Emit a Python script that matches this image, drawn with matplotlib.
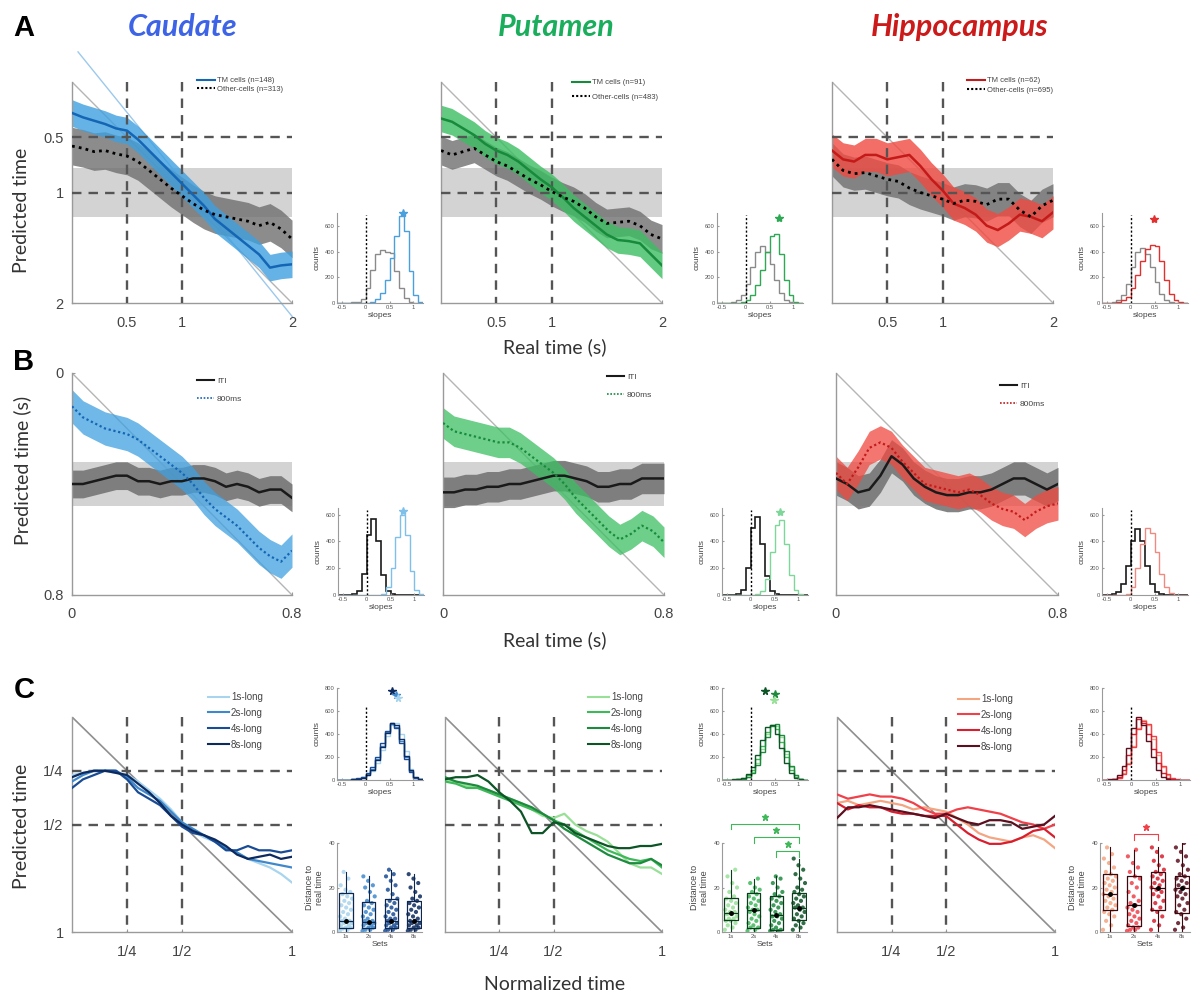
import numpy as np
import matplotlib
matplotlib.use('Agg')
import matplotlib.pyplot as plt
from matplotlib.lines import Line2D

plt.rcParams['font.family'] = ['Liberation Sans', 'DejaVu Sans']

# ---------------- DATA ----------------
regions = ['Caudate', 'Putamen', 'Hippocampus']
title_colors = ['#3d63e6', '#1aae5c', '#cc1a1a']
tm_line_colors = ['#1565b5', '#178a3c', '#c41a1a']
tm_fill_colors = ['#3fa0e0', '#3cbf62', '#f04a40']
tm_hist_colors = ['#4aa0dc', '#2ea854', '#e03030']
light_hist_colors = ['#7fc0ea', '#7fd69a', '#f08a80']

# Row A: real time 0..2 s
xA = np.linspace(0, 2, 21)
tm_n = [148, 91, 62]
other_n = [313, 483, 695]
tm_mean = [
    [0.28, 0.32, 0.35, 0.38, 0.42, 0.44, 0.52, 0.62, 0.72, 0.82, 0.92, 1.02, 1.12, 1.24, 1.32, 1.40, 1.48, 1.56, 1.68, 1.66, 1.65],
    [0.33, 0.36, 0.42, 0.48, 0.56, 0.62, 0.66, 0.72, 0.80, 0.88, 0.95, 1.04, 1.14, 1.22, 1.30, 1.38, 1.43, 1.44, 1.46, 1.56, 1.66],
    [0.62, 0.70, 0.72, 0.66, 0.66, 0.70, 0.68, 0.66, 0.76, 0.88, 0.98, 1.10, 1.14, 1.20, 1.30, 1.34, 1.28, 1.20, 1.22, 1.26, 1.18],
]
tm_sem = [0.12, 0.12, 0.15]
other_mean = [
    [0.58, 0.60, 0.63, 0.62, 0.65, 0.67, 0.72, 0.80, 0.88, 0.96, 1.03, 1.10, 1.16, 1.20, 1.22, 1.24, 1.26, 1.30, 1.27, 1.33, 1.42],
    [0.62, 0.66, 0.63, 0.60, 0.66, 0.72, 0.76, 0.82, 0.88, 0.93, 0.99, 1.04, 1.08, 1.14, 1.22, 1.28, 1.27, 1.26, 1.30, 1.38, 1.42],
    [0.70, 0.80, 0.83, 0.82, 0.85, 0.88, 0.90, 0.96, 1.00, 1.03, 1.06, 1.10, 1.07, 1.08, 1.11, 1.06, 1.06, 1.16, 1.22, 1.12, 1.07],
]
other_sem = [0.17, 0.13, 0.15]
chance_A = (0.78, 1.22)
caudate_fit = (1.23, -0.34)   # slope, intercept of light-blue fit line
caudate_fit_x = (0.055, 2.01)

# Row B: real time 0..0.8 s
xB = np.linspace(0, 0.8, 21)
iti_mean = [
    [0.40, 0.40, 0.39, 0.38, 0.37, 0.37, 0.39, 0.39, 0.40, 0.39, 0.39, 0.38, 0.38, 0.39, 0.41, 0.40, 0.41, 0.43, 0.42, 0.42, 0.45],
    [0.43, 0.43, 0.42, 0.42, 0.41, 0.41, 0.40, 0.40, 0.39, 0.38, 0.37, 0.37, 0.38, 0.39, 0.41, 0.41, 0.40, 0.40, 0.38, 0.38, 0.38],
    [0.38, 0.40, 0.43, 0.42, 0.37, 0.30, 0.33, 0.38, 0.41, 0.43, 0.44, 0.44, 0.43, 0.43, 0.42, 0.40, 0.38, 0.38, 0.40, 0.42, 0.40],
]
iti_sem = [0.05, 0.055, 0.06]
m800_mean = [
    [0.12, 0.16, 0.18, 0.20, 0.21, 0.22, 0.24, 0.27, 0.30, 0.33, 0.36, 0.40, 0.45, 0.49, 0.52, 0.55, 0.59, 0.63, 0.66, 0.68, 0.64],
    [0.18, 0.21, 0.22, 0.23, 0.24, 0.25, 0.25, 0.27, 0.30, 0.33, 0.36, 0.40, 0.45, 0.49, 0.53, 0.57, 0.60, 0.58, 0.55, 0.57, 0.61],
    [0.36, 0.40, 0.34, 0.27, 0.25, 0.27, 0.32, 0.36, 0.40, 0.41, 0.42, 0.43, 0.42, 0.44, 0.47, 0.49, 0.50, 0.53, 0.50, 0.48, 0.47],
]
m800_sem = [0.06, 0.055, 0.06]
chance_B = (0.32, 0.48)

# Row C: normalized time 0..1
xC = np.linspace(0, 1, 21)
set_labels = ['1s-long', '2s-long', '4s-long', '8s-long']
set_ticks = ['1s', '2s', '4s', '8s']
set_colors = [
    ['#a8d4ee', '#3f88cc', '#1a4c95', '#0c2a5e'],
    ['#98e098', '#3fb85a', '#1d8a3e', '#0d5426'],
    ['#f4a582', '#f0404a', '#d91e2e', '#5c0f1e'],
]
box_edge = ['#0d2850', '#0b3d1c', '#3a0a10']
norm_curves = [
    [
        [0.27, 0.26, 0.25, 0.25, 0.26, 0.27, 0.30, 0.34, 0.38, 0.43, 0.49, 0.53, 0.56, 0.58, 0.61, 0.63, 0.66, 0.68, 0.70, 0.73, 0.77],
        [0.30, 0.27, 0.25, 0.25, 0.25, 0.28, 0.33, 0.36, 0.39, 0.44, 0.49, 0.52, 0.55, 0.58, 0.61, 0.63, 0.66, 0.67, 0.68, 0.69, 0.70],
        [0.33, 0.29, 0.27, 0.25, 0.25, 0.29, 0.35, 0.38, 0.41, 0.46, 0.51, 0.54, 0.55, 0.58, 0.62, 0.62, 0.60, 0.62, 0.62, 0.63, 0.62],
        [0.28, 0.26, 0.25, 0.25, 0.26, 0.27, 0.31, 0.35, 0.40, 0.46, 0.50, 0.53, 0.55, 0.57, 0.60, 0.64, 0.66, 0.65, 0.64, 0.66, 0.65],
    ],
    [
        [0.29, 0.30, 0.32, 0.33, 0.34, 0.36, 0.38, 0.40, 0.43, 0.46, 0.47, 0.45, 0.50, 0.53, 0.55, 0.58, 0.63, 0.68, 0.70, 0.70, 0.73],
        [0.30, 0.31, 0.33, 0.33, 0.35, 0.37, 0.39, 0.41, 0.43, 0.45, 0.48, 0.50, 0.53, 0.56, 0.59, 0.62, 0.64, 0.66, 0.67, 0.66, 0.70],
        [0.28, 0.30, 0.31, 0.32, 0.34, 0.36, 0.38, 0.40, 0.42, 0.45, 0.48, 0.52, 0.55, 0.58, 0.61, 0.64, 0.66, 0.68, 0.68, 0.66, 0.69],
        [0.29, 0.28, 0.28, 0.27, 0.30, 0.35, 0.39, 0.44, 0.54, 0.54, 0.49, 0.50, 0.54, 0.56, 0.58, 0.60, 0.61, 0.61, 0.60, 0.60, 0.59],
    ],
    [
        [0.40, 0.39, 0.41, 0.40, 0.39, 0.40, 0.41, 0.43, 0.42, 0.43, 0.44, 0.47, 0.50, 0.54, 0.56, 0.57, 0.58, 0.56, 0.55, 0.57, 0.61],
        [0.36, 0.38, 0.37, 0.36, 0.37, 0.37, 0.38, 0.40, 0.43, 0.45, 0.45, 0.43, 0.42, 0.43, 0.44, 0.45, 0.47, 0.49, 0.50, 0.52, 0.50],
        [0.40, 0.43, 0.41, 0.42, 0.42, 0.44, 0.45, 0.45, 0.46, 0.46, 0.46, 0.50, 0.54, 0.57, 0.59, 0.59, 0.58, 0.56, 0.53, 0.52, 0.56],
        [0.47, 0.42, 0.42, 0.41, 0.42, 0.43, 0.44, 0.45, 0.46, 0.47, 0.45, 0.47, 0.49, 0.50, 0.48, 0.48, 0.49, 0.52, 0.51, 0.50, 0.46],
    ],
]

# Slope histograms: bin edges -0.6..1.2 step 0.1
hist_edges = np.round(np.arange(-0.6, 1.2001, 0.1), 2)
histA_other = [
    [0, 0, 0, 5, 10, 30, 120, 260, 380, 410, 400, 390, 250, 120, 40, 10, 0, 0],
    [0, 0, 0, 5, 20, 60, 150, 280, 400, 440, 400, 300, 180, 80, 25, 5, 0, 0],
    [0, 0, 5, 20, 60, 150, 280, 400, 430, 380, 280, 160, 70, 20, 5, 0, 0, 0],
]
histA_tm = [
    [0, 0, 0, 0, 0, 0, 0, 5, 30, 80, 180, 350, 520, 680, 560, 250, 60, 5],
    [0, 0, 0, 0, 0, 5, 20, 60, 140, 260, 400, 520, 540, 380, 180, 60, 10, 0],
    [0, 0, 0, 5, 20, 50, 120, 220, 330, 420, 450, 440, 330, 180, 70, 20, 5, 0],
]
starA = [(0.78, 700), (0.70, 660), (0.48, 650)]
histB_iti = [
    [0, 0, 0, 5, 30, 160, 450, 570, 400, 150, 30, 5, 0, 0, 0, 0, 0, 0],
    [0, 0, 0, 5, 40, 200, 500, 580, 380, 140, 30, 5, 0, 0, 0, 0, 0, 0],
    [0, 0, 5, 20, 80, 220, 400, 490, 400, 220, 80, 20, 5, 0, 0, 0, 0, 0],
]
histB_800 = [
    [0, 0, 0, 0, 0, 0, 0, 0, 0, 10, 60, 200, 430, 600, 450, 180, 40, 5],
    [0, 0, 0, 0, 0, 0, 0, 5, 30, 120, 320, 520, 560, 380, 150, 40, 5, 0],
    [0, 0, 0, 0, 0, 10, 60, 200, 380, 500, 460, 320, 160, 60, 15, 0, 0, 0],
]
starB = [(0.75, 630), (0.62, 620), None]
histC = [
    [
        [0, 0, 0, 5, 10, 20, 40, 80, 150, 260, 380, 480, 500, 400, 250, 100, 30, 5],
        [0, 0, 0, 5, 10, 25, 50, 100, 180, 300, 420, 490, 460, 340, 200, 80, 20, 5],
        [0, 0, 0, 5, 15, 30, 60, 110, 200, 320, 430, 500, 450, 320, 180, 70, 20, 5],
        [0, 0, 0, 5, 10, 20, 45, 90, 170, 290, 410, 500, 480, 360, 210, 90, 25, 5],
    ],
    [
        [0, 0, 0, 5, 10, 30, 70, 150, 270, 400, 480, 470, 370, 230, 110, 40, 10, 0],
        [0, 0, 0, 5, 15, 40, 90, 180, 300, 420, 480, 440, 330, 200, 90, 30, 5, 0],
        [0, 0, 0, 5, 10, 25, 60, 130, 240, 370, 470, 490, 390, 250, 120, 40, 10, 0],
        [0, 0, 5, 10, 20, 50, 110, 220, 350, 460, 480, 400, 280, 150, 60, 20, 5, 0],
    ],
    [
        [0, 0, 5, 20, 60, 150, 300, 450, 520, 480, 360, 220, 110, 40, 10, 0, 0, 0],
        [0, 0, 5, 15, 50, 140, 290, 440, 510, 490, 380, 240, 120, 50, 15, 5, 0, 0],
        [0, 0, 10, 30, 90, 220, 400, 530, 500, 400, 270, 150, 60, 20, 5, 0, 0, 0],
        [0, 5, 10, 40, 120, 280, 450, 550, 480, 340, 200, 90, 30, 10, 0, 0, 0, 0],
    ],
]
# stars above C histograms: (x, y, set index)
starC = [
    [(0.56, 770, 3), (0.63, 740, 1), (0.68, 710, 0)],
    [(0.30, 770, 3), (0.50, 745, 2), (0.48, 700, 0)],
    [],
]

# Distance-to-real-time box stats: med, q1, q3, low, high
box_stats = [
    [(5, 2, 17.5, 0, 27), (4.5, 2, 13.5, 0, 25), (5, 2, 15, 0, 28), (5, 2, 14, 0, 26)],
    [(8.5, 5.5, 15.5, 0, 28), (10, 2, 17.5, 0, 24), (7.5, 1, 16, 0, 25), (11, 5.5, 17.5, 0, 33)],
    [(17, 10, 26, 0, 38), (12, 2.5, 25, 0, 37), (20, 10, 27, 0, 38), (20, 8.5, 25, 0, 40)],
]
box_points = [
    [
        [0.5, 1, 1.5, 2, 2, 3, 3, 4, 4, 5, 5, 5, 6, 7, 8, 9, 10, 11, 12, 13, 14, 15, 16, 17, 18, 19, 21, 24, 27],
        [0.5, 1, 1, 2, 2, 3, 3, 4, 4, 4, 5, 5, 6, 7, 8, 9, 10, 11, 12, 13, 14, 16, 18, 20, 21, 23, 25],
        [0.5, 1, 1, 2, 2, 3, 3, 4, 4, 5, 5, 6, 6, 7, 8, 9, 10, 11, 12, 13, 14, 15, 17, 19, 21, 23, 25, 26, 28],
        [0.5, 1, 1, 2, 2, 3, 3, 4, 4, 5, 5, 6, 7, 8, 9, 10, 11, 12, 13, 14, 15, 16, 18, 20, 22, 24, 26],
    ],
    [
        [1, 2, 3, 4, 5, 5, 6, 6, 7, 8, 8, 9, 9, 10, 11, 12, 13, 14, 15, 16, 18, 20, 22, 25, 28],
        [0.5, 1, 2, 2, 3, 4, 5, 6, 7, 8, 9, 10, 10, 11, 12, 13, 14, 15, 16, 17, 18, 19, 20, 22, 24],
        [0.5, 0.5, 1, 1, 2, 3, 4, 5, 6, 7, 7, 8, 9, 10, 11, 12, 13, 14, 15, 16, 17, 18, 20, 22, 24, 25],
        [1, 2, 3, 4, 5, 6, 7, 8, 9, 10, 11, 11, 12, 13, 14, 15, 16, 17, 18, 19, 20, 22, 24, 26, 28, 30, 33],
    ],
    [
        [1, 3, 5, 7, 8, 9, 10, 11, 12, 13, 14, 15, 16, 17, 18, 19, 20, 21, 22, 23, 24, 25, 26, 27, 29, 31, 33, 35, 38],
        [0.5, 1, 1, 2, 2, 3, 4, 5, 6, 7, 8, 9, 10, 11, 12, 13, 14, 16, 18, 20, 22, 24, 25, 27, 29, 31, 34, 37],
        [1, 3, 5, 7, 9, 10, 11, 13, 14, 16, 17, 18, 19, 20, 21, 22, 23, 24, 25, 26, 27, 28, 30, 32, 34, 36, 38],
        [1, 2, 4, 6, 8, 9, 10, 12, 13, 15, 16, 17, 18, 19, 20, 21, 22, 23, 24, 25, 26, 28, 30, 32, 34, 36, 38, 40],
    ],
]
# significance brackets: (from set, to set, height)
sig_bars = [
    [],
    [(1, 4, 48.6), (2, 4, 42.7), (3, 4, 36.4)],
    [(2, 3, 44.0)],
]

# ---------------- LAYOUT ----------------
W, H = 1197, 1001
fig = plt.figure(figsize=(W / 100, H / 100), dpi=100)


def pax(l, t, r, b):
    return fig.add_axes([l / W, 1 - b / H, (r - l) / W, (b - t) / H])


def ftext(x, y, s, **kw):
    fig.text(x / W, 1 - y / H, s, **kw)


def fanchor(x, y):
    return (x / W, 1 - y / H)


mainA = [(72, 82, 292, 303), (441, 82, 662, 303), (832, 82, 1053, 303)]
mainB = [(72, 373, 292, 595), (443, 373, 664, 595), (836, 373, 1058, 595)]
mainC = [(72, 717, 292, 932), (445, 717, 662, 932), (837, 717, 1055, 932)]
histA_box = [(337, 213, 423, 303), (717, 213, 803, 303), (1102, 213, 1188, 303)]
histB_box = [(338, 508, 424, 595), (722, 508, 808, 595), (1102, 508, 1188, 595)]
histC_box = [(337, 688, 423, 780), (722, 688, 808, 780), (1102, 688, 1190, 780)]
boxC_box = [(337, 843, 422, 932), (722, 843, 807, 932), (1100, 843, 1190, 932)]

legA_pos = [(197, 77), (572, 79), (967, 77)]
legA_space = [0.15, 0.9, 0.3]
legB_pos = [(197, 377), (607, 373), (1000, 382)]
legC_pos = [(208, 692), (588, 692), (958, 694)]

SPINE = '#9a9a9a'
TICKC = '#444444'
DASH = dict(color='#555555', lw=1.7, ls=(0, (4, 3)), zorder=3)


def style_main(ax):
    for s in ['top', 'right']:
        ax.spines[s].set_visible(False)
    for s in ['left', 'bottom']:
        ax.spines[s].set_color(SPINE)
        ax.spines[s].set_linewidth(1.0)
    ax.tick_params(direction='in', length=2, colors=SPINE, labelcolor=TICKC,
                   labelsize=10.5)
    ax.tick_params(axis='x', pad=9)
    ax.tick_params(axis='y', pad=6)


def style_small(ax, ylabel, xlabel):
    for s in ['top', 'right']:
        ax.spines[s].set_visible(False)
    for s in ['left', 'bottom']:
        ax.spines[s].set_color(SPINE)
        ax.spines[s].set_linewidth(0.8)
    ax.tick_params(direction='in', length=1.5, colors=SPINE, labelcolor='#555555',
                   labelsize=4.2, pad=1.5)
    ax.set_ylabel(ylabel, fontsize=6, color='#444444', labelpad=3)
    ax.set_xlabel(xlabel, fontsize=6, color='#444444', labelpad=1.5)


def star(ax, x, y, color, ms=6):
    ax.plot([x], [y], marker='*', ms=ms, color=color, mec=color, clip_on=False, zorder=6)


# ---------- Row A ----------
for i in range(3):
    ax = pax(*mainA[i])
    ax.axhspan(chance_A[0], chance_A[1], color='#d3d3d3', zorder=0, lw=0)
    ax.plot([0, 2], [0, 2], color='#b5b5b5', lw=1.0, zorder=1)
    for v in (0.5, 1):
        ax.plot([v, v], [0, 2], **DASH)
        ax.plot([0, 2], [v, v], **DASH)
    om = np.array(other_mean[i])
    tm = np.array(tm_mean[i])
    ax.fill_between(xA, om - other_sem[i], om + other_sem[i], color='#6f6f6f', alpha=0.8, lw=0, zorder=2)
    ax.fill_between(xA, tm - tm_sem[i], tm + tm_sem[i], color=tm_fill_colors[i], alpha=0.8, lw=0, zorder=2.5)
    ax.plot(xA, tm, color=tm_line_colors[i], lw=1.8, zorder=4)
    ax.plot(xA, om, color='black', lw=2.0, ls=(0, (1, 1.5)), zorder=4)
    if i == 0:
        fx = np.array(caudate_fit_x)
        ax.plot(fx, caudate_fit[0] * fx + caudate_fit[1], color='#9cc9ec', lw=1.0,
                zorder=1, clip_on=False)
    ax.set_xlim(0, 2)
    ax.set_ylim(2, 0)
    style_main(ax)
    ax.set_xticks([0.5, 1, 2])
    ax.set_xticklabels(['0.5', '1', '2'])
    if i == 0:
        ax.set_yticks([0.5, 1, 2])
        ax.set_yticklabels(['0.5', '1', '2'])
    else:
        ax.set_yticks([])
    h = [Line2D([], [], color=tm_line_colors[i], lw=1.5),
         Line2D([], [], color='black', lw=1.5, ls=(0, (1, 1)))]
    leg = ax.legend(h, [f'TM cells (n={tm_n[i]})', f'Other-cells (n={other_n[i]})'],
                    loc='upper left', bbox_to_anchor=fanchor(*legA_pos[i]),
                    bbox_transform=fig.transFigure, frameon=False, fontsize=5.5,
                    handlelength=2.4, handletextpad=0.2, labelspacing=legA_space[i],
                    borderpad=0, borderaxespad=0)
    for t in leg.get_texts():
        t.set_color('#444444')

    hx = pax(*histA_box[i])
    hx.stairs(histA_other[i], hist_edges, color='#8a8a8a', lw=1.0)
    hx.stairs(histA_tm[i], hist_edges, color=tm_hist_colors[i], lw=1.0)
    hx.axvline(0, color='black', lw=1.0, ls=(0, (1.5, 1.5)), ymax=0.98)
    hx.set_xlim(-0.6, 1.2)
    hx.set_ylim(0, 700)
    hx.set_xticks([-0.5, 0, 0.5, 1])
    hx.set_xticklabels(['-0.5', '0', '0.5', '1'])
    hx.set_yticks([0, 200, 400, 600])
    style_small(hx, 'counts', 'slopes')
    sx, sy = starA[i]
    star(hx, sx, sy, tm_hist_colors[i])

# ---------- Row B ----------
for i in range(3):
    ax = pax(*mainB[i])
    ax.axhspan(chance_B[0], chance_B[1], color='#d3d3d3', zorder=0, lw=0)
    ax.plot([0, 0.8], [0, 0.8], color='#b5b5b5', lw=1.0, zorder=1)
    im = np.array(iti_mean[i])
    mm = np.array(m800_mean[i])
    ax.fill_between(xB, im - iti_sem[i], im + iti_sem[i], color='#6f6f6f', alpha=0.85, lw=0, zorder=2)
    ax.fill_between(xB, mm - m800_sem[i], mm + m800_sem[i], color=tm_fill_colors[i], alpha=0.75, lw=0, zorder=2.5)
    ax.plot(xB, im, color='#1a1a1a', lw=1.8, zorder=4)
    ax.plot(xB, mm, color=tm_line_colors[i], lw=1.6, ls=(0, (1, 1.2)), zorder=4)
    ax.set_xlim(0, 0.8)
    ax.set_ylim(0.8, 0)
    style_main(ax)
    ax.set_xticks([0, 0.8])
    ax.set_xticklabels(['0', '0.8'])
    if i == 0:
        ax.set_yticks([0, 0.8])
        ax.set_yticklabels(['0', '0.8'])
    else:
        ax.set_yticks([])
    h = [Line2D([], [], color='#1a1a1a', lw=1.5),
         Line2D([], [], color=tm_line_colors[i], lw=1.2, ls=(0, (1, 1)))]
    leg = ax.legend(h, ['ITI', '800ms'], loc='upper left',
                    bbox_to_anchor=fanchor(*legB_pos[i]), bbox_transform=fig.transFigure,
                    frameon=False, fontsize=6, handlelength=2.0, handletextpad=0.4,
                    labelspacing=1.2, borderpad=0, borderaxespad=0)
    for t in leg.get_texts():
        t.set_color('#444444')

    hx = pax(*histB_box[i])
    hx.stairs(histB_iti[i], hist_edges, color='#1a1a1a', lw=1.2)
    hx.stairs(histB_800[i], hist_edges, color=light_hist_colors[i], lw=1.0)
    hx.axvline(0, color='black', lw=1.0, ls=(0, (1.5, 1.5)), ymax=0.98)
    hx.set_xlim(-0.6, 1.2)
    hx.set_ylim(0, 650)
    hx.set_xticks([-0.5, 0, 0.5, 1])
    hx.set_xticklabels(['-0.5', '0', '0.5', '1'])
    hx.set_yticks([0, 200, 400, 600])
    style_small(hx, 'counts', 'slopes')
    if starB[i] is not None:
        sx, sy = starB[i]
        star(hx, sx, sy, light_hist_colors[i])

# ---------- Row C ----------
for i in range(3):
    ax = pax(*mainC[i])
    ax.plot([0, 1], [0, 1], color='#8f8f8f', lw=1.2, zorder=1)
    for v in (0.25, 0.5):
        ax.plot([v, v], [0, 1], **DASH)
        ax.plot([0, 1], [v, v], **DASH)
    for k in range(4):
        ax.plot(xC, norm_curves[i][k], color=set_colors[i][k], lw=1.6, zorder=4)
    ax.set_xlim(0, 1)
    ax.set_ylim(1, 0)
    style_main(ax)
    ax.set_xticks([0.25, 0.5, 1])
    ax.set_xticklabels(['1/4', '1/2', '1'])
    if i == 0:
        ax.set_yticks([0.25, 0.5, 1])
        ax.set_yticklabels(['1/4', '1/2', '1'])
    else:
        ax.set_yticks([])
    h = [Line2D([], [], color=set_colors[i][k], lw=1.5) for k in range(4)]
    leg = ax.legend(h, set_labels, loc='upper left',
                    bbox_to_anchor=fanchor(*legC_pos[i]), bbox_transform=fig.transFigure,
                    frameon=False, fontsize=7, handlelength=2.2, handletextpad=0.15,
                    labelspacing=0.6, borderpad=0, borderaxespad=0)
    for t in leg.get_texts():
        t.set_color('#444444')

    hx = pax(*histC_box[i])
    for k in range(4):
        hx.stairs(histC[i][k], hist_edges, color=set_colors[i][k], lw=1.0)
    hx.axvline(0, color='black', lw=1.0, ls=(0, (1.5, 1.5)), ymax=0.8)
    hx.set_xlim(-0.6, 1.2)
    hx.set_ylim(0, 800)
    hx.set_xticks([-0.5, 0, 0.5, 1])
    hx.set_xticklabels(['-0.5', '0', '0.5', '1'])
    hx.set_yticks([0, 200, 400, 600, 800])
    style_small(hx, 'counts', 'slopes')
    for sx, sy, k in starC[i]:
        star(hx, sx, sy, set_colors[i][k], ms=5.5)

    bx = pax(*boxC_box[i])
    stats = []
    for k in range(4):
        med, q1, q3, lo, hi = box_stats[i][k]
        stats.append(dict(med=med, q1=q1, q3=q3, whislo=lo, whishi=hi, fliers=[]))
    for k in range(4):
        pts = np.array(box_points[i][k])
        n = len(pts)
        off = ((np.arange(n) * 0.618034) % 1 - 0.5) * 0.55
        bx.scatter(k + 1 + off, pts, s=9, color=set_colors[i][k], alpha=0.85,
                   edgecolors='none', zorder=2)
    bx.bxp(stats, positions=[1, 2, 3, 4], widths=0.58, showfliers=False,
           boxprops=dict(color=box_edge[i], lw=0.9),
           whiskerprops=dict(color=box_edge[i], lw=0.8),
           capprops=dict(color=box_edge[i], lw=0.0),
           medianprops=dict(color=box_edge[i], lw=0.9), manage_ticks=False)
    for k in range(4):
        bx.plot(k + 1, box_stats[i][k][0], 'o', color='black', ms=2.5, zorder=5)
    for a, b, y in sig_bars[i]:
        col = set_colors[i][1]
        bx.plot([a, a, b, b], [y - 2.5, y, y, y - 2.5], color=col, lw=0.8, clip_on=False)
        star(bx, (a + b) / 2, y + 3.0, col, ms=5)
    bx.set_xlim(0.6, 4.35)
    bx.set_ylim(0, 40)
    bx.set_xticks([1, 2, 3, 4])
    bx.set_xticklabels(set_ticks)
    bx.set_yticks([0, 20, 40])
    style_small(bx, 'Distance to\nreal time', 'Sets')
    bx.yaxis.label.set_size(6.5)

# ---------- Texts ----------
LAB = dict(family=['Lato', 'DejaVu Sans'], color='#333333', ha='center', va='center')
for x, s, c in [(183, 'Caudate', title_colors[0]), (556, 'Putamen', title_colors[1]),
                (960, 'Hippocampus', title_colors[2])]:
    ftext(x, 27, s, fontsize=22, fontweight='bold', style='italic',
          family=['Lato', 'DejaVu Sans'], color=c, ha='center', va='center')
for y, s in [(28, 'A'), (362, 'B'), (690, 'C')]:
    ftext(24, y, s, fontsize=21, fontweight='bold', color='black', ha='center', va='center')
ftext(22, 210, 'Predicted time', fontsize=14, rotation=90, **LAB)
ftext(22, 470, 'Predicted time (s)', fontsize=14, rotation=90, **LAB)
ftext(22, 826, 'Predicted time', fontsize=14, rotation=90, **LAB)
ftext(555, 347, 'Real time (s)', fontsize=14, **LAB)
ftext(555, 640, 'Real time (s)', fontsize=14, **LAB)
ftext(555, 985, 'Normalized time', fontsize=14, **LAB)

fig.savefig('out.png', dpi=100)
